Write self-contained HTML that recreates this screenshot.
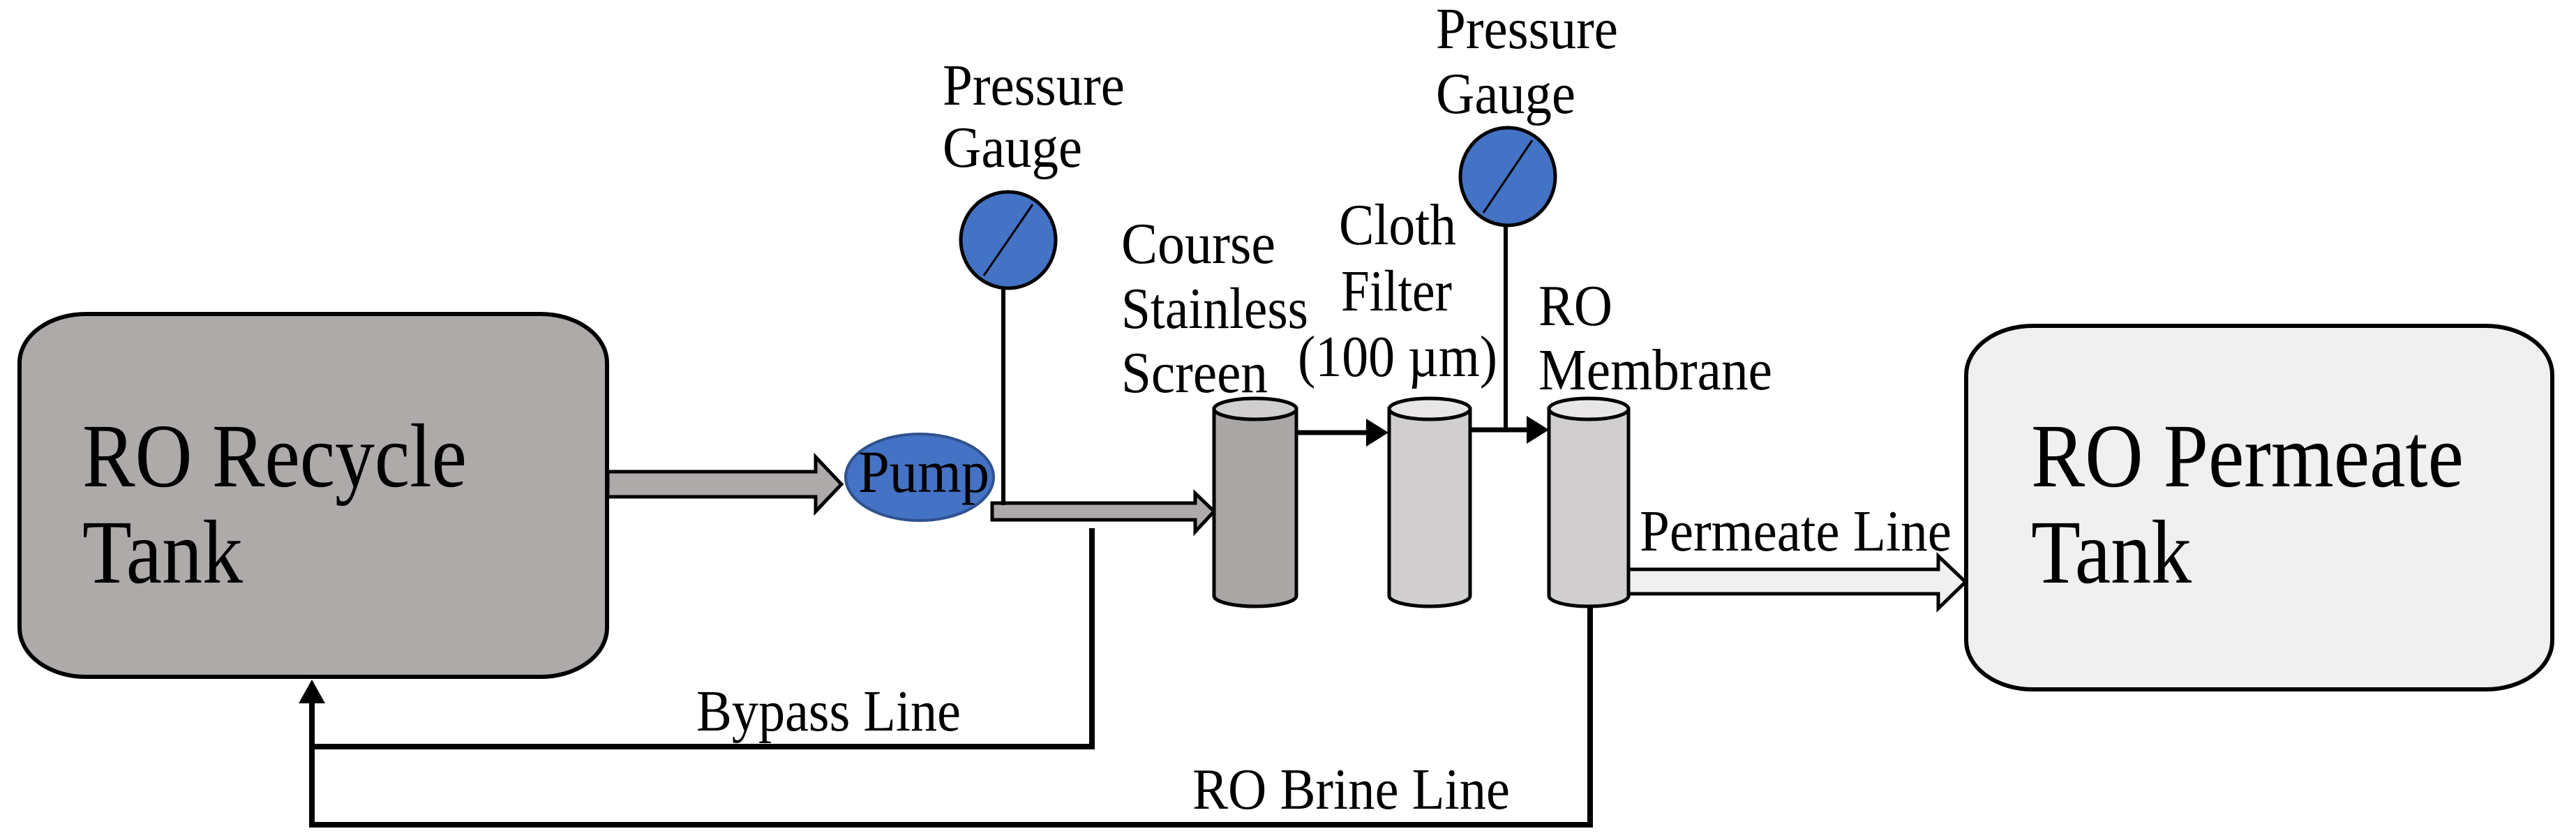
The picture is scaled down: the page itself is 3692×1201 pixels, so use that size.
<!DOCTYPE html>
<html><head><meta charset="utf-8"><style>
html,body{margin:0;padding:0;background:#fff;}
svg{display:block;}
text{font-family:"Liberation Serif",serif;fill:#000;}
</style></head><body>
<svg width="3692" height="1201" viewBox="0 0 3692 1201" xmlns="http://www.w3.org/2000/svg">
<rect x="28" y="450" width="842" height="520" rx="95" ry="70" fill="#aeaaaa" stroke="#000" stroke-width="6"/>
<text x="118" y="697" font-size="130" textLength="551" lengthAdjust="spacingAndGlyphs">RO Recycle</text>
<text x="118" y="835" font-size="130" textLength="230" lengthAdjust="spacingAndGlyphs">Tank</text>
<rect x="2818" y="467" width="840" height="521" rx="95" ry="70" fill="#f0f0f0" stroke="#000" stroke-width="6"/>
<text x="2911" y="697" font-size="130" textLength="620" lengthAdjust="spacingAndGlyphs">RO Permeate</text>
<text x="2911" y="835" font-size="130" textLength="230" lengthAdjust="spacingAndGlyphs">Tank</text>

<polyline points="1565,757 1565,1070 447,1070" fill="none" stroke="#000" stroke-width="8"/>
<polyline points="2279,869 2279,1182 447,1182 447,1000" fill="none" stroke="#000" stroke-width="8"/>
<polygon points="447,974 428,1008 466,1008" fill="#000"/>
<text x="998" y="1047" font-size="84" textLength="379" lengthAdjust="spacingAndGlyphs">Bypass Line</text>
<text x="1709" y="1159" font-size="84" textLength="455" lengthAdjust="spacingAndGlyphs">RO Brine Line</text>

<polygon points="871,676 1169,676 1169,655 1206,694 1169,733 1169,712 871,712" fill="#aeaaaa" stroke="#000" stroke-width="5"/>

<ellipse cx="1318" cy="684" rx="106" ry="62" fill="#4472c4" stroke="#2f528f" stroke-width="4"/>
<text x="1230" y="705" font-size="86" textLength="188" lengthAdjust="spacingAndGlyphs">Pump</text>

<polygon points="1422,721 1713,721 1713,707 1740,733 1713,762 1713,745 1422,745" fill="#aeaaaa" stroke="#000" stroke-width="5"/>

<line x1="1438" y1="413" x2="1438" y2="724" stroke="#000" stroke-width="6"/>
<ellipse cx="1445" cy="344" rx="68" ry="69" fill="#4472c4" stroke="#000" stroke-width="5"/>
<line x1="1410" y1="395" x2="1480" y2="293" stroke="#000" stroke-width="3"/>
<text x="1351" y="150" font-size="84" textLength="261" lengthAdjust="spacingAndGlyphs">Pressure</text>
<text x="1351" y="239" font-size="84" textLength="200" lengthAdjust="spacingAndGlyphs">Gauge</text>

<line x1="2158" y1="323" x2="2158" y2="616" stroke="#000" stroke-width="6"/>
<ellipse cx="2161" cy="253" rx="68" ry="70" fill="#4472c4" stroke="#000" stroke-width="5"/>
<line x1="2126" y1="305" x2="2196" y2="201" stroke="#000" stroke-width="3"/>
<text x="2058" y="69" font-size="84" textLength="261" lengthAdjust="spacingAndGlyphs">Pressure</text>
<text x="2058" y="162" font-size="84" textLength="200" lengthAdjust="spacingAndGlyphs">Gauge</text>

<line x1="1858" y1="620" x2="1960" y2="620" stroke="#000" stroke-width="7"/>
<polygon points="1990,620 1958,600 1958,640" fill="#000"/>
<line x1="2107" y1="616" x2="2190" y2="616" stroke="#000" stroke-width="7"/>
<polygon points="2220,616 2188,596 2188,636" fill="#000"/>

<g stroke="#000" stroke-width="5">
<path d="M1740,586 L1740,854 A59,15 0 0 0 1858,854 L1858,586 Z" fill="#a9a6a5"/>
<ellipse cx="1799" cy="586" rx="59" ry="15" fill="#d0cecf"/>
<path d="M1991,586 L1991,854 A58,15 0 0 0 2107,854 L2107,586 Z" fill="#d0cecf"/>
<ellipse cx="2049" cy="586" rx="58" ry="15" fill="#e8e6e6"/>
<path d="M2220,586 L2220,854 A57,15 0 0 0 2334,854 L2334,586 Z" fill="#d0cecf"/>
<ellipse cx="2277" cy="586" rx="57" ry="15" fill="#e8e6e6"/>
</g>

<text x="1607" y="377" font-size="84" textLength="221" lengthAdjust="spacingAndGlyphs">Course</text>
<text x="1607" y="470" font-size="84" textLength="268" lengthAdjust="spacingAndGlyphs">Stainless</text>
<text x="1607" y="562" font-size="84" textLength="210" lengthAdjust="spacingAndGlyphs">Screen</text>
<text x="1919" y="350" font-size="84" textLength="168" lengthAdjust="spacingAndGlyphs">Cloth</text>
<text x="1922" y="445" font-size="84" textLength="159" lengthAdjust="spacingAndGlyphs">Filter</text>
<text x="1860" y="539" font-size="84" textLength="286" lengthAdjust="spacingAndGlyphs">(100 µm)</text>
<text x="2205" y="466" font-size="84" textLength="106" lengthAdjust="spacingAndGlyphs">RO</text>
<text x="2205" y="558" font-size="84" textLength="335" lengthAdjust="spacingAndGlyphs">Membrane</text>

<polygon points="2334,816 2778,816 2778,797 2817,834 2778,872 2778,851 2334,851" fill="#f0f0f0" stroke="#000" stroke-width="5"/>
<text x="2350" y="789" font-size="84" textLength="447" lengthAdjust="spacingAndGlyphs">Permeate Line</text>
</svg>
</body></html>
